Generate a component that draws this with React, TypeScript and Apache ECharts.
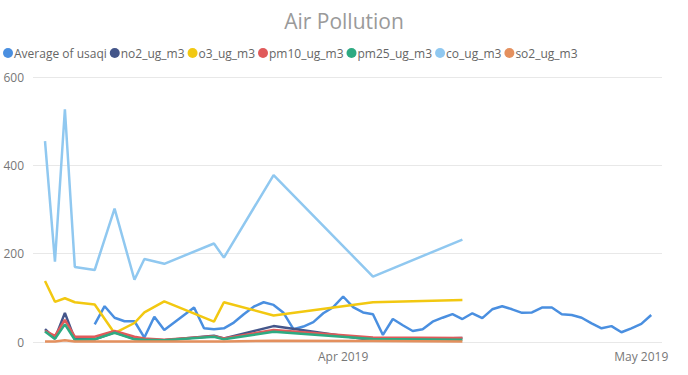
import React, { useEffect, useRef } from "react";
import * as echarts from "echarts";

const usaqiDates = [
  "2019-03-07", "2019-03-08", "2019-03-09", "2019-03-10", "2019-03-11", "2019-03-12", "2019-03-13", "2019-03-14",
  "2019-03-15", "2019-03-16", "2019-03-17", "2019-03-18", "2019-03-19", "2019-03-20", "2019-03-21", "2019-03-22",
  "2019-03-23", "2019-03-24", "2019-03-25", "2019-03-26", "2019-03-27", "2019-03-28", "2019-03-29", "2019-03-30",
  "2019-03-31", "2019-04-01", "2019-04-02", "2019-04-03", "2019-04-04", "2019-04-05", "2019-04-06", "2019-04-07",
  "2019-04-08", "2019-04-09", "2019-04-10", "2019-04-11", "2019-04-12", "2019-04-13", "2019-04-14", "2019-04-15",
  "2019-04-16", "2019-04-17", "2019-04-18", "2019-04-19", "2019-04-20", "2019-04-21", "2019-04-22", "2019-04-23",
  "2019-04-24", "2019-04-25", "2019-04-26", "2019-04-27", "2019-04-28", "2019-04-29", "2019-04-30", "2019-05-01",
  "2019-05-02",
];
const usaqi = [
  40, 81, 55, 47, 47, 10, 57, 27, 44, 61, 78, 31, 29, 31, 44, 63,
  80, 90, 84, 66, 29, 35, 45, 65, 79, 103, 79, 67, 63, 16, 52, 38,
  25, 29, 46, 55, 63, 52, 65, 54, 74, 81, 74, 66, 67, 78, 78, 63,
  61, 55, 42, 31, 36, 22, 31, 41, 61,
];

const pollutantDates = [
  "2019-03-02", "2019-03-03", "2019-03-04", "2019-03-05", "2019-03-07", "2019-03-09", "2019-03-11",
  "2019-03-12", "2019-03-14", "2019-03-19", "2019-03-20", "2019-03-25", "2019-04-04", "2019-04-13",
];
const no2 = [29, 8, 66, 6, 6, 22, 7, 5, 4, 14, 8, 36, 4, 9];
const o3 = [138, 91, 99, 90, 85, 20, 43, 67, 92, 46, 90, 60, 90, 95];
const pm10 = [25, 14, 50, 12, 12, 25, 12, 8, 5, 13, 8, 27, 10, 9];
const pm25 = [24, 7, 40, 5, 6, 21, 6, 5, 4, 12, 6, 23, 7, 5];
const co = [455, 182, 527, 170, 163, 302, 141, 188, 177, 223, 191, 378, 148, 232];
const so2 = [1, 1, 4, 1, 1, 1, 1, 1, 1, 1, 1, 3, 2, 1];

const seriesNames = ["Average of usaqi", "no2_ug_m3", "o3_ug_m3", "pm10_ug_m3", "pm25_ug_m3", "co_ug_m3", "so2_ug_m3"];
const colors = ["#4A8FE0", "#44568A", "#F2C811", "#E05A5A", "#2EAA82", "#90C8F0", "#E4905E"];
const monthNames = ["Jan", "Feb", "Mar", "Apr", "May", "Jun", "Jul", "Aug", "Sep", "Oct", "Nov", "Dec"];

const pair = (dates: string[], vals: number[]) => dates.map((d, i) => [d, vals[i]]);

export default function App() {
  const ref = useRef<HTMLDivElement>(null);
  useEffect(() => {
    if (!ref.current) return;
    const chart = echarts.init(ref.current, null, { renderer: "svg" });
    const font = "'Open Sans', sans-serif";
    const pollutantSeries = [no2, o3, pm10, pm25, co, so2];
    const rich: Record<string, any> = { g: { width: 1 } };
    colors.forEach((c, i) => {
      rich["d" + i] = { width: 10, height: 10, borderRadius: 5, backgroundColor: c };
    });
    chart.setOption({
      animation: false,
      color: colors,
      textStyle: { fontFamily: font },
      title: {
        text: "Air Pollution",
        left: "center",
        top: 5,
        textStyle: { fontSize: 21, fontWeight: "normal", color: "#9a9a9a", fontFamily: font },
      },
      legend: {
        data: seriesNames.map((n) => ({ name: n, icon: "none" })),
        left: -7,
        top: 42,
        itemWidth: 0,
        itemHeight: 10,
        itemGap: -2,
        formatter: (name: string) => `{d${seriesNames.indexOf(name)}|}{g|}${name}`,
        textStyle: { fontSize: 12, color: "#666", fontFamily: font, rich },
      },
      grid: { left: 33, right: 26, top: 77, bottom: 33 },
      xAxis: {
        type: "time",
        min: new Date(2019, 1, 28, 19).getTime(),
        max: new Date(2019, 4, 3, 2).getTime(),
        minInterval: 28 * 86400000,
        axisLine: { show: false },
        axisTick: { show: false },
        splitLine: { show: false },
        axisLabel: {
          color: "#777",
          fontSize: 12,
          margin: 8,
          formatter: (val: number) => {
            const d = new Date(val);
            if (d.getDate() === 1 && d.getMonth() !== 2) return `${monthNames[d.getMonth()]} ${d.getFullYear()}`;
            return "";
          },
        },
      },
      yAxis: {
        type: "value",
        min: 0,
        max: 600,
        interval: 200,
        axisLine: { show: false },
        axisTick: { show: false },
        splitLine: { lineStyle: { color: "#e8e8e8", width: 1 } },
        axisLabel: { color: "#777", fontSize: 12, margin: 9 },
      },
      series: [
        {
          name: seriesNames[0],
          type: "line",
          data: pair(usaqiDates, usaqi),
          showSymbol: false,
          lineStyle: { width: 2.5 },
        },
        ...pollutantSeries.map((vals, i) => ({
          name: seriesNames[i + 1],
          type: "line",
          data: pair(pollutantDates, vals),
          showSymbol: false,
          lineStyle: { width: 2.5 },
        })),
      ],
    });
    return () => chart.dispose();
  }, []);
  return <div ref={ref} style={{ position: "absolute", left: 0, top: 0, width: 688, height: 375 }} />;
}
